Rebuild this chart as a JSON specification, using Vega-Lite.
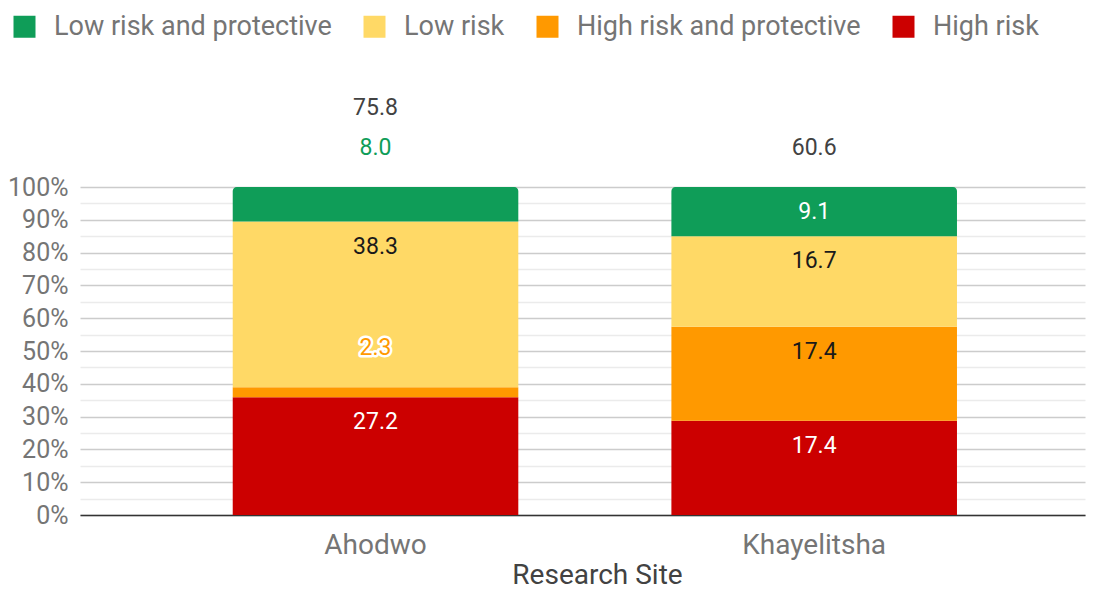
{
  "$schema": "https://vega.github.io/schema/vega-lite/v6.json",
  "autosize": "none",
  "width": 1005,
  "height": 328,
  "padding": {"left": 80, "top": 187, "right": 14, "bottom": 75},
  "background": "white",
  "config": {
    "font": "Roboto",
    "view": {"stroke": null},
    "legend": {
      "orient": "none",
      "legendX": -69,
      "legendY": -174,
      "direction": "horizontal",
      "labelFontSize": 27,
      "labelColor": "#757575",
      "labelLimit": 600,
      "labelExpr": "datum.label == 'Low risk' ? 'Low risk      ' : datum.label",
      "symbolType": "square",
      "symbolSize": 484,
      "symbolStrokeWidth": 0,
      "symbolOpacity": 1,
      "labelOffset": 16,
      "columnPadding": 29
    }
  },
  "data": {
    "values": [
      {"site": "Ahodwo", "category": "High risk", "value": 27.2},
      {"site": "Ahodwo", "category": "High risk and protective", "value": 2.3},
      {"site": "Ahodwo", "category": "Low risk", "value": 38.3},
      {"site": "Ahodwo", "category": "Low risk and protective", "value": 8.0},
      {"site": "Khayelitsha", "category": "High risk", "value": 17.4},
      {"site": "Khayelitsha", "category": "High risk and protective", "value": 17.4},
      {"site": "Khayelitsha", "category": "Low risk", "value": 16.7},
      {"site": "Khayelitsha", "category": "Low risk and protective", "value": 9.1}
    ]
  },
  "transform": [
    {"stack": "value", "groupby": ["site"], "sort": [{"field": "category", "order": "ascending"}], "offset": "normalize", "as": ["y0", "y1"]},
    {"calculate": "datum.y1 - datum.y0", "as": "frac"},
    {"calculate": "datum.category == 'Low risk and protective' ? datum.y1 - datum.y0 : 1", "as": "topCand"},
    {"joinaggregate": [{"op": "sum", "field": "value", "as": "total"}, {"op": "min", "field": "topCand", "as": "topFrac"}], "groupby": ["site"]}
  ],
  "encoding": {
    "x": {
      "field": "site",
      "type": "nominal",
      "scale": {"paddingInner": 0.349, "paddingOuter": 0.32, "align": 0.544},
      "axis": {
        "labelAngle": 0,
        "labelFontSize": 28,
        "labelColor": "#757575",
        "labelPadding": 16,
        "ticks": false,
        "domainColor": "#333333",
        "domainWidth": 1.5,
        "title": "Research Site",
        "titleFontSize": 28,
        "titleFontWeight": "normal",
        "titleColor": "#424242",
        "titlePadding": 2,
        "titleX": 517,
        "titleAlign": "center",
        "grid": false
      }
    },
    "y": {
      "field": "y1",
      "type": "quantitative",
      "scale": {"domain": [0, 1], "nice": false},
      "axis": {
        "title": null,
        "values": [0, 0.05, 0.1, 0.15, 0.2, 0.25, 0.3, 0.35, 0.4, 0.45, 0.5, 0.55, 0.6, 0.65, 0.7, 0.75, 0.8, 0.85, 0.9, 0.95, 1],
        "format": ".0%",
        "labelExpr": "round(datum.value*100) % 10 == 0 ? datum.label : ''",
        "labelFontSize": 25,
        "labelColor": "#757575",
        "labelPadding": 12,
        "ticks": false,
        "domain": false,
        "gridColor": {"condition": {"test": "round(datum.value*100) % 10 == 0", "value": "#cccccc"}, "value": "#ebebeb"},
        "gridWidth": 1.5
      }
    }
  },
  "layer": [
    {
      "transform": [{"filter": "datum.category != 'Low risk and protective'"}],
      "mark": {"type": "bar"},
      "encoding": {
        "y2": {"field": "y0"},
        "color": {
          "field": "category",
          "type": "nominal",
          "scale": {
            "domain": ["Low risk and protective", "Low risk", "High risk and protective", "High risk"],
            "range": ["#0f9d58", "#ffd966", "#ff9900", "#cc0000"]
          },
          "legend": {"title": null}
        }
      }
    },
    {
      "transform": [{"filter": "datum.category == 'Low risk and protective'"}],
      "mark": {"type": "bar", "cornerRadiusTopLeft": 4, "cornerRadiusTopRight": 4},
      "encoding": {
        "y2": {"field": "y0"},
        "color": {"field": "category", "type": "nominal"}
      }
    },
    {
      "transform": [{"filter": "datum.frac >= 0.12"}],
      "mark": {"type": "text", "baseline": "middle", "dy": 25, "fontSize": 23},
      "encoding": {
        "text": {"field": "value", "type": "quantitative", "format": ".1f"},
        "color": {"condition": {"test": "datum.category == 'High risk' || datum.category == 'Low risk and protective'", "value": "#ffffff"}, "value": "#1a1a1a"}
      }
    },
    {
      "transform": [{"filter": "datum.frac < 0.12"}],
      "mark": {"type": "text", "baseline": "middle", "dy": -39, "fontSize": 23, "fill": "#ffffff", "stroke": "#ffffff", "strokeWidth": 5, "strokeJoin": "round"},
      "encoding": {
        "text": {"field": "value", "type": "quantitative", "format": ".1f"}
      }
    },
    {
      "transform": [{"filter": "datum.frac < 0.12"}],
      "mark": {"type": "text", "baseline": "middle", "dy": -39, "fontSize": 23},
      "encoding": {
        "text": {"field": "value", "type": "quantitative", "format": ".1f"},
        "color": {"condition": {"test": "datum.category == 'Low risk and protective'", "value": "#0f9d58"}, "value": "#ff9900"}
      }
    },
    {
      "transform": [{"filter": "datum.category == 'Low risk and protective' && datum.topFrac >= 0.12"}],
      "mark": {"type": "text", "baseline": "middle", "dy": -39, "fontSize": 23, "color": "#424242"},
      "encoding": {
        "text": {"field": "total", "type": "quantitative", "format": ".1f"}
      }
    },
    {
      "transform": [{"filter": "datum.category == 'Low risk and protective' && datum.topFrac < 0.12"}],
      "mark": {"type": "text", "baseline": "middle", "dy": -79, "fontSize": 23, "color": "#424242"},
      "encoding": {
        "text": {"field": "total", "type": "quantitative", "format": ".1f"}
      }
    }
  ]
}
